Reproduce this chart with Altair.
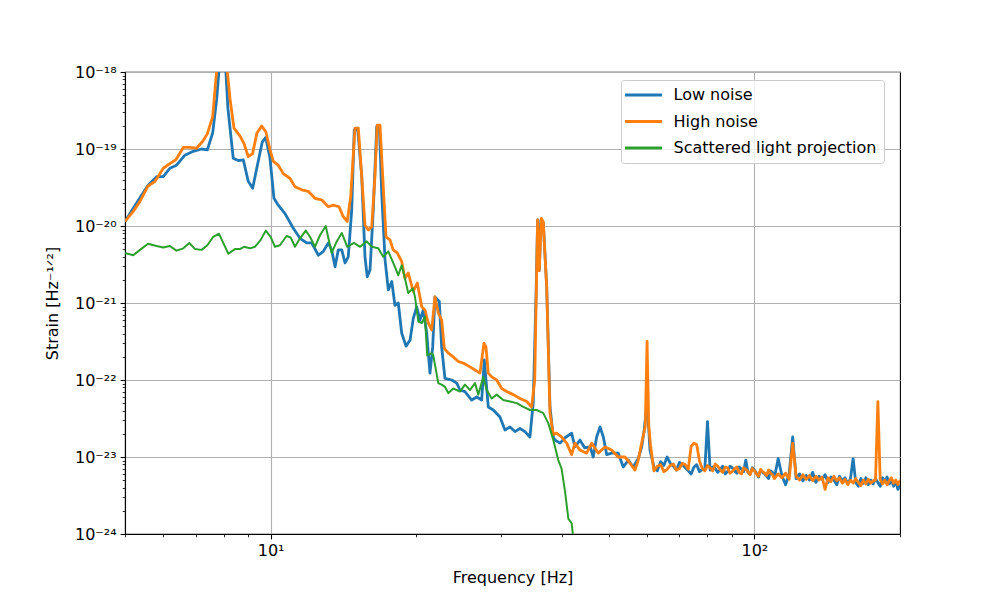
import altair as alt
import pandas as pd

# ---------------- data (frequency in Hz, strain as log10 exponent) ----------------
low_freq = [5.00, 5.20, 5.41, 5.58, 5.81, 6.00, 6.19, 6.39, 6.65, 6.92, 7.20, 7.40, 7.59, 7.74, 7.86, 8.05,
            8.16, 8.37, 8.57, 8.78, 8.99, 9.18, 9.39, 9.61, 9.77, 9.97, 10.16, 10.37, 10.71, 11.14, 11.50,
            11.87, 12.16, 12.55, 12.85, 13.16, 13.37, 13.59, 13.80, 14.03, 14.25, 14.47, 14.71, 14.89, 15.13,
            15.43, 15.67, 15.84, 16.05, 16.30, 16.57, 16.78, 16.97, 17.24, 17.51, 17.80, 18.07, 18.36, 18.66,
            19.05, 19.42, 19.72, 20.04, 20.36, 20.68, 21.02, 21.35, 21.63, 21.86, 22.32, 22.57, 22.93, 23.68,
            24.25, 24.63, 25.22, 26.04, 26.67, 27.31, 27.65, 28.18, 28.86, 29.79, 30.51, 31.25, 32.00, 32.77,
            33.55, 34.36, 34.90, 35.35, 35.64, 35.92, 36.21, 36.61, 37.21, 37.80, 38.40, 38.69, 39.65, 40.61,
            41.90, 42.57, 43.59, 44.58, 45.78, 46.44, 47.20, 47.97, 48.73, 49.52, 50.69, 52.31, 53.58, 54.87,
            56.19, 57.54, 58.48, 59.20, 60.00, 60.84]
low_exp = [-19.94, -19.77, -19.60, -19.47, -19.36, -19.36, -19.25, -19.21, -19.08, -19.03, -19.00, -19.01,
           -18.79, -18.34, -17.80, -17.80, -18.47, -19.12, -19.15, -19.14, -19.42, -19.51, -19.21, -18.91,
           -18.85, -19.12, -19.64, -19.73, -19.84, -20.03, -20.16, -20.22, -20.22, -20.38, -20.33, -20.22,
           -20.31, -20.53, -20.31, -20.31, -20.48, -20.40, -19.79, -18.75, -18.73, -19.36, -20.40, -20.66,
           -20.57, -19.79, -18.71, -18.71, -19.58, -20.44, -20.83, -20.72, -21.03, -21.00, -21.39, -21.56,
           -21.48, -21.20, -21.05, -21.22, -21.09, -21.39, -21.91, -21.57, -20.92, -20.98, -21.57, -21.98,
           -22.00, -22.04, -22.13, -22.15, -22.26, -22.22, -22.26, -21.74, -22.35, -22.39, -22.48, -22.65,
           -22.61, -22.67, -22.63, -22.67, -22.74, -22.30, -20.96, -19.92, -20.58, -19.92, -19.95, -20.79,
           -22.35, -22.74, -22.78, -22.82, -22.75, -22.69, -22.87, -22.78, -22.88, -22.87, -23.00, -22.74,
           -22.61, -22.74, -22.97, -22.95, -22.95, -23.13, -23.04, -23.13, -23.02, -22.87, -22.65, -22.26,
           -22.91]

high_freq = [5.00, 5.20, 5.37, 5.58, 5.77, 6.00, 6.19, 6.37, 6.60, 6.81, 7.03, 7.24, 7.40, 7.59, 7.71, 7.80,
             8.08, 8.24, 8.40, 8.64, 8.81, 8.99, 9.18, 9.36, 9.58, 9.78, 9.97, 10.13, 10.37, 10.62, 10.96,
             11.23, 11.59, 11.96, 12.35, 12.75, 13.16, 13.48, 13.85, 14.13, 14.40, 14.64, 14.94, 15.18, 15.43,
             15.67, 15.92, 16.18, 16.43, 16.61, 16.83, 17.05, 17.32, 17.65, 17.92, 18.27, 18.66, 18.95, 19.25,
             19.72, 20.10, 20.53, 20.85, 21.18, 21.53, 21.86, 22.21, 22.57, 22.86, 23.30, 23.86, 24.43, 25.02,
             25.83, 26.45, 27.09, 27.61, 27.87, 28.18, 28.64, 29.33, 30.03, 30.76, 31.74, 32.77, 33.84, 34.65,
             35.15, 35.64, 35.92, 36.29, 36.61, 37.21, 37.80, 38.40, 39.00, 39.94, 40.93, 41.90, 42.57, 43.59,
             45.01, 46.10, 47.57, 49.10, 50.69, 52.31, 54.01, 55.31, 56.64, 57.54, 58.48, 59.50, 60.00, 60.50,
             61.00]
high_exp = [-19.94, -19.81, -19.68, -19.48, -19.42, -19.25, -19.19, -19.14, -18.98, -18.98, -18.99, -18.90,
            -18.80, -18.58, -18.08, -17.80, -17.80, -18.34, -18.73, -18.83, -18.93, -19.10, -19.06, -18.80,
            -18.70, -18.78, -19.01, -19.16, -19.21, -19.32, -19.38, -19.49, -19.53, -19.55, -19.64, -19.66,
            -19.75, -19.73, -19.75, -19.88, -19.94, -19.62, -18.73, -18.73, -19.36, -19.99, -20.05, -20.01,
            -19.36, -18.69, -18.69, -19.36, -20.14, -20.18, -20.31, -20.35, -20.46, -20.68, -20.61, -20.85,
            -20.74, -21.05, -21.09, -21.26, -21.35, -20.92, -21.13, -21.22, -21.59, -21.65, -21.70, -21.76,
            -21.78, -21.83, -21.87, -21.91, -21.52, -21.57, -21.91, -21.96, -22.00, -22.11, -22.15, -22.19,
            -22.24, -22.28, -22.35, -22.00, -19.92, -20.58, -19.90, -19.95, -20.79, -22.43, -22.71, -22.69,
            -22.74, -22.82, -22.97, -22.82, -22.91, -22.95, -22.82, -22.95, -22.87, -22.91, -23.00, -23.00,
            -23.08, -23.17, -23.04, -22.82, -22.60, -21.50, -22.60, -22.85]

# high-frequency part (62-200 Hz), even bins
hf_freq = [62, 64, 66, 68, 70, 72, 74, 76, 78, 80, 82, 84, 86, 88, 90, 92, 94, 96, 98, 100,
           102, 104, 106, 108, 110, 112, 114, 116, 118, 120, 122, 124, 126, 128, 130, 132, 134, 136, 138, 140,
           142, 144, 146, 148, 150, 152, 154, 156, 158, 160, 162, 164, 166, 168, 170, 172, 174, 176, 178, 180,
           182, 184, 186, 188, 190, 192, 194, 196, 198, 200]
hf_low_exp = [-23.13, -23.06, -23.00, -23.12, -23.07, -23.14, -23.22, -23.10, -23.16, -22.54,
              -23.13, -23.20, -23.12, -23.19, -23.14, -23.21, -23.16, -23.04, -23.22, -23.17,
              -23.26, -23.20, -23.25, -23.18, -23.27, -23.02, -23.24, -23.36, -23.22, -22.74,
              -23.28, -23.22, -23.31, -23.24, -23.30, -23.20, -23.33, -23.25, -23.29, -23.23,
              -23.33, -23.26, -23.30, -23.36, -23.25, -23.31, -23.27, -23.35, -23.28, -23.02,
              -23.33, -23.38, -23.28, -23.34, -23.27, -23.36, -23.30, -23.35, -23.28, -23.33,
              -23.38, -23.27, -23.32, -23.26, -23.35, -23.30, -23.38, -23.31, -23.42, -23.36]
hf_high_exp = [-23.18, -23.10, -23.16, -23.09, -23.15, -23.10, -22.86, -22.84, -23.15, -23.11,
               -23.18, -23.12, -23.20, -23.14, -23.19, -23.13, -23.22, -23.16, -23.23, -23.18,
               -23.25, -23.19, -23.24, -23.21, -23.28, -23.22, -23.27, -23.21, -23.29, -22.82,
               -23.25, -23.30, -23.23, -23.29, -23.24, -23.31, -23.25, -23.30, -23.26, -23.42,
               -23.27, -23.32, -23.25, -23.31, -23.27, -23.34, -23.29, -23.36, -23.30, -23.34,
               -23.28, -23.33, -23.37, -23.30, -23.35, -23.29, -23.34, -23.31, -23.30, -22.28,
               -23.29, -23.35, -23.30, -23.36, -23.31, -23.27, -23.34, -23.30, -23.36, -23.30]

# high-frequency part, odd bins between 62 and 110 Hz
hf2_freq = [63, 65, 67, 69, 71, 73, 75, 77, 79, 81, 83, 85, 87, 89, 91, 93, 95, 97, 99, 101, 103, 105, 107, 109]
hf2_low_exp = [-23.18, -23.11, -23.08, -23.17, -23.10, -23.18, -23.13, -23.19, -23.15, -23.17, -23.15, -23.16,
               -23.22, -23.12, -23.18, -23.13, -23.19, -23.20, -23.14, -23.21, -23.17, -23.22, -23.28, -23.20]
hf2_high_exp = [-23.12, -23.19, -23.11, -23.17, -23.08, -23.16, -22.82, -23.05, -23.18, -23.14, -23.09, -23.17,
                -23.13, -23.21, -23.15, -23.20, -23.14, -23.19, -23.15, -23.22, -23.16, -23.21, -23.17, -23.23]

scat_freq = [5.00, 5.20, 5.37, 5.58, 5.81, 6.00, 6.19, 6.39, 6.60, 6.79, 6.98, 7.20, 7.40, 7.61, 7.82, 7.98,
             8.18, 8.44, 8.64, 8.81, 9.07, 9.28, 9.54, 9.77, 10.00, 10.21, 10.45, 10.79, 11.00, 11.23, 11.50,
             11.82, 12.06, 12.35, 12.65, 13.00, 13.37, 13.70, 14.03, 14.40, 14.87, 15.30, 15.80, 16.18, 16.69,
             17.09, 17.51, 18.07, 18.36, 18.66, 18.95, 19.25, 19.67, 19.88, 20.20, 20.53, 20.85, 21.07, 21.53,
             21.69, 22.21, 22.57, 22.93, 23.30, 23.86, 24.63, 25.22, 25.83, 26.45, 26.87, 27.52, 27.97, 28.64,
             29.33, 30.26, 31.25, 32.26, 33.29, 34.36, 35.48, 36.61, 37.49, 38.40, 39.32, 39.94, 40.61, 41.25,
             41.90, 42.39, 43.00]
scat_exp = [-20.35, -20.38, -20.31, -20.23, -20.26, -20.28, -20.26, -20.32, -20.29, -20.22, -20.30, -20.31,
            -20.25, -20.14, -20.10, -20.22, -20.36, -20.30, -20.30, -20.27, -20.29, -20.27, -20.18, -20.06,
            -20.14, -20.27, -20.25, -20.13, -20.15, -20.27, -20.16, -20.06, -20.14, -20.27, -20.12, -20.00,
            -20.35, -20.20, -20.09, -20.27, -20.22, -20.27, -20.20, -20.27, -20.29, -20.40, -20.33, -20.53,
            -20.64, -20.51, -20.68, -20.87, -20.81, -20.92, -21.24, -21.26, -21.18, -21.68, -21.65, -21.68,
            -22.04, -22.06, -22.09, -22.17, -22.11, -22.15, -22.06, -22.13, -22.04, -22.19, -21.96, -22.13,
            -22.24, -22.19, -22.26, -22.28, -22.30, -22.35, -22.39, -22.39, -22.43, -22.56, -22.78, -23.04,
            -23.15, -23.45, -23.80, -23.86, -24.14, -24.60]

series_names = ["Low noise", "High noise", "Scattered light projection"]
series_colors = ["#1f77b4", "#ff7f0e", "#2ca02c"]

x_major = [10, 100]
x_minor = [5, 6, 7, 8, 9, 20, 30, 40, 50, 60, 70, 80, 90, 200]
y_exponents = [-24, -23, -22, -21, -20, -19, -18]
y_major = [10.0 ** k for k in y_exponents]
y_minor = [m * 10.0 ** k for k in y_exponents[:-1] for m in range(2, 10)]

sup = {"-": "\u207b", "0": "\u2070", "1": "\u00b9", "2": "\u00b2", "3": "\u00b3", "4": "\u2074",
       "5": "\u2075", "6": "\u2076", "7": "\u2077", "8": "\u2078", "9": "\u2079"}


def sup_text(k):
    return "10" + "".join(sup[c] for c in str(k))


def frame(name, freqs, exps):
    d = pd.DataFrame({"freq": freqs, "strain": [10.0 ** e for e in exps], "series": name})
    return d.sort_values("freq").reset_index(drop=True)


df_low = frame(series_names[0], low_freq + hf_freq + hf2_freq, low_exp + hf_low_exp + hf2_low_exp)
df_high = frame(series_names[1], high_freq + hf_freq + hf2_freq, high_exp + hf_high_exp + hf2_high_exp)
df_scat = frame(series_names[2], scat_freq, scat_exp)

# ---------------- chart ----------------
xscale = alt.Scale(type="log", domain=[5, 200], nice=False)
yscale = alt.Scale(type="log", domain=[1e-24, 1e-18], nice=False)
cscale = alt.Scale(domain=series_names, range=series_colors)

ylabel_expr = ""
for k in y_exponents[:-1]:
    ylabel_expr += f"datum.value < {5 * 10.0 ** k} ? '{sup_text(k)}' : "
ylabel_expr += f"'{sup_text(-18)}'"
xlabel_expr = f"datum.value < 50 ? '{sup_text(1)}' : '{sup_text(2)}'"

x_axis_main = alt.Axis(values=x_major, labelExpr=xlabel_expr, grid=True, title="Frequency [Hz]",
                       orient="bottom", tickSize=4.9, tickWidth=1.1, labelPadding=4,
                       titleY=43, titleBaseline="middle", titlePadding=0)
y_axis_main = alt.Axis(values=y_major, labelExpr=ylabel_expr, grid=True, title="Strain [Hz\u207b\u00b9\u141f\u00b2]",
                       orient="left", tickSize=4.9, tickWidth=1.1, labelPadding=4,
                       titleX=-73, titleY=231, titleBaseline="middle", titleAngle=270)
x_axis_minor = alt.Axis(values=x_minor, labels=False, grid=False, title=None, orient="bottom",
                        tickSize=2.8, tickWidth=0.8, domain=False)
y_axis_minor = alt.Axis(values=y_minor, labels=False, grid=False, title=None, orient="left",
                        tickSize=2.8, tickWidth=0.8, domain=False)

legend = alt.Legend(title=None, orient="none", legendX=496, legendY=8, fillColor="rgba(255,255,255,0.8)",
                    strokeColor="#cccccc", cornerRadius=3, padding=7, labelFontSize=16, labelColor="black",
                    symbolType="M-3.7,0H3.7", symbolSize=100, symbolStrokeWidth=2.8, symbolOffset=7.5,
                    labelOffset=22, rowPadding=10.5, labelFont="DejaVu Sans", labelLimit=400)


def line_layer(data, width, xa, ya):
    return alt.Chart(data).mark_line(clip=True, strokeWidth=width, strokeJoin="round").encode(
        x=alt.X("freq:Q", scale=xscale, axis=xa),
        y=alt.Y("strain:Q", scale=yscale, axis=ya),
        color=alt.Color("series:N", scale=cscale, legend=legend),
    )


minor_layer = alt.Chart(df_low).mark_line(opacity=0).encode(
    x=alt.X("freq:Q", scale=xscale, axis=x_axis_minor),
    y=alt.Y("strain:Q", scale=yscale, axis=y_axis_minor),
)

chart = alt.layer(
    line_layer(df_low, 2.8, x_axis_main, y_axis_main),
    line_layer(df_high, 2.8, None, None),
    line_layer(df_scat, 2.0, None, None),
    minor_layer,
).resolve_axis(x="independent", y="independent").properties(
    width=775, height=462,
    autosize=alt.AutoSizeParams(type="none"),
    padding={"left": 117, "top": 64, "right": 90, "bottom": 60},
).configure(font="DejaVu Sans").configure_view(
    stroke="black", strokeWidth=1.1
).configure_axis(
    labelFontSize=16, titleFontSize=16, labelColor="black", titleColor="black",
    titleFontWeight="normal", domainColor="black", domainWidth=1.1, tickColor="black",
    gridColor="#b0b0b0", gridWidth=1.1, labelFont="DejaVu Sans", titleFont="DejaVu Sans",
)

chart.save("out.html", embed_options={"renderer": "svg", "actions": False})
